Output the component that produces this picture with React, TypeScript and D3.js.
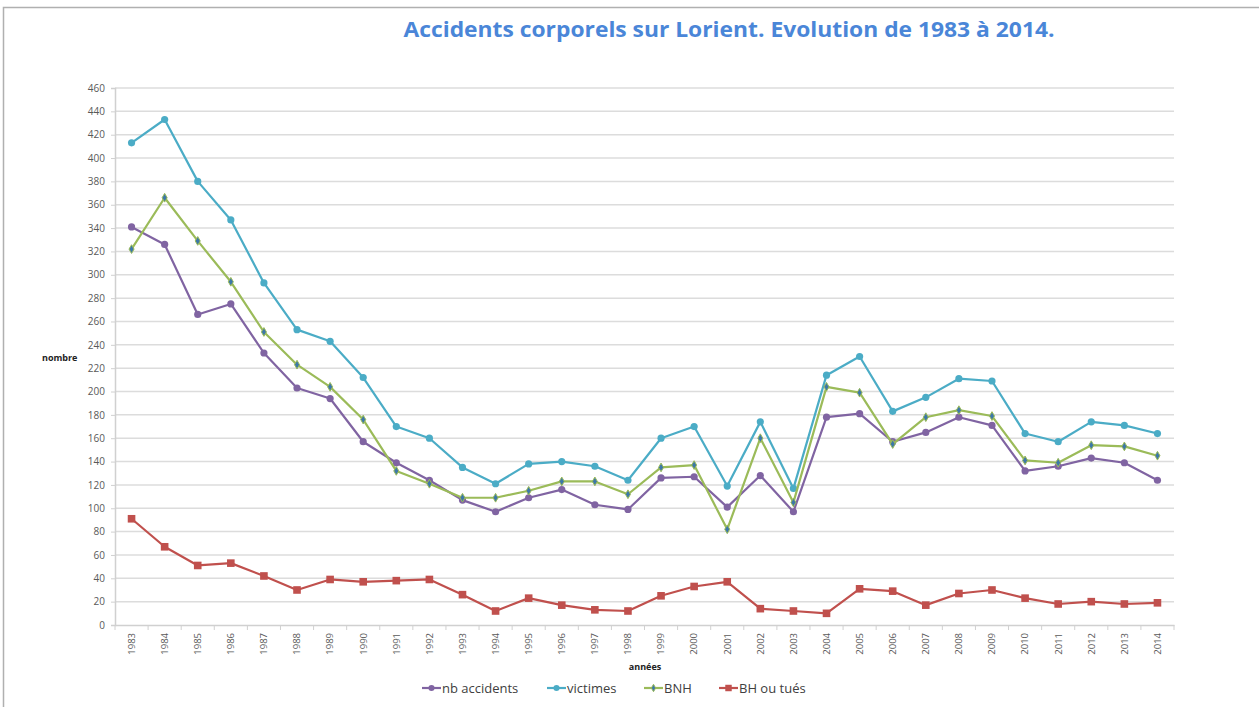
import React, { useEffect, useRef } from 'react';
import * as d3 from 'd3';

const years = [
  '1983', '1984', '1985', '1986', '1987', '1988', '1989', '1990', '1991', '1992', '1993',
  '1994', '1995', '1996', '1997', '1998', '1999', '2000', '2001', '2002', '2003', '2004',
  '2005', '2006', '2007', '2008', '2009', '2010', '2011', '2012', '2013', '2014',
];

const nbAccidents = [341, 326, 266, 275, 233, 203, 194, 157, 139, 124, 107, 97, 109, 116, 103, 99,
  126, 127, 101, 128, 97, 178, 181, 157, 165, 178, 171, 132, 136, 143, 139, 124];
const victimes = [413, 433, 380, 347, 293, 253, 243, 212, 170, 160, 135, 121, 138, 140, 136, 124,
  160, 170, 119, 174, 117, 214, 230, 183, 195, 211, 209, 164, 157, 174, 171, 164];
const bnh = [322, 366, 329, 294, 251, 223, 204, 176, 132, 121, 109, 109, 115, 123, 123, 112,
  135, 137, 82, 160, 105, 204, 199, 155, 178, 184, 179, 141, 139, 154, 153, 145];
const bhTues = [91, 67, 51, 53, 42, 30, 39, 37, 38, 39, 26, 12, 23, 17, 13, 12,
  25, 33, 37, 14, 12, 10, 31, 29, 17, 27, 30, 23, 18, 20, 18, 19];

const yTicks = d3.range(0, 461, 20);

const series = [
  { name: 'nb accidents', values: nbAccidents, color: '#8064a2', marker: 'circle' },
  { name: 'victimes', values: victimes, color: '#4bacc6', marker: 'circle' },
  { name: 'BNH', values: bnh, color: '#9bbb59', marker: 'diamond' },
  { name: 'BH ou tués', values: bhTues, color: '#c0504d', marker: 'square' },
];

const App = () => {
  const svgRef = useRef<SVGSVGElement>(null);

  useEffect(() => {
    const W = 1259;
    const H = 707;
    const m = { top: 88, right: 85, bottom: 82, left: 115 };
    const font = 'Open Sans, sans-serif';

    const svg = d3.select(svgRef.current)
      .attr('width', W)
      .attr('height', H)
      .style('background', '#fff');
    svg.selectAll('*').remove();

    // outer frame
    svg.append('path')
      .attr('d', `M3.5,${H} V7.5 H${W}`)
      .attr('fill', 'none')
      .attr('stroke', '#b0b0b0')
      .attr('stroke-width', 1.5);

    svg.append('text')
      .attr('x', 729)
      .attr('y', 37)
      .attr('text-anchor', 'middle')
      .attr('fill', '#4a86d8')
      .attr('font-family', font)
      .attr('font-weight', 'bold')
      .attr('font-size', 21)
      .attr('textLength', 651)
      .attr('lengthAdjust', 'spacingAndGlyphs')
      .text('Accidents corporels sur Lorient. Evolution de 1983 à 2014.');

    const x = d3.scaleBand().domain(years).range([m.left, W - m.right]);
    const y = d3.scaleLinear().domain([0, 460]).range([H - m.bottom, m.top]);
    const cx = (i: number) => (x(years[i]) as number) + x.bandwidth() / 2;

    // grid
    svg.append('g')
      .selectAll('line')
      .data(yTicks.filter(d => d > 0))
      .join('line')
      .attr('x1', m.left)
      .attr('x2', W - m.right)
      .attr('y1', d => y(d))
      .attr('y2', d => y(d))
      .attr('stroke', '#dcdcdc')
      .attr('stroke-width', 1.5);

    // y axis
    const yAxis = svg.append('g')
      .attr('transform', `translate(${m.left},0)`)
      .call(d3.axisLeft(y).tickValues(yTicks).tickSize(4).tickPadding(6));
    yAxis.select('.domain').attr('stroke', '#d0d0d0').attr('stroke-width', 1.5);
    yAxis.selectAll('.tick line').attr('stroke', '#d0d0d0');
    yAxis.selectAll('text')
      .attr('fill', '#595959')
      .attr('font-family', font)
      .attr('font-size', 10);

    // x axis
    const xAxis = svg.append('g')
      .attr('transform', `translate(0,${H - m.bottom})`)
      .call(d3.axisBottom(x).tickSize(0));
    xAxis.select('.domain').attr('stroke', '#d0d0d0').attr('stroke-width', 1.5);
    xAxis.selectAll('.tick text')
      .attr('transform', 'rotate(-90)')
      .attr('x', -8)
      .attr('y', 0)
      .attr('dy', '0.35em')
      .attr('text-anchor', 'end')
      .attr('fill', '#595959')
      .attr('font-family', font)
      .attr('font-size', 9.5);
    // category separators
    svg.append('g')
      .selectAll('line')
      .data(d3.range(years.length + 1))
      .join('line')
      .attr('x1', i => m.left + i * x.step())
      .attr('x2', i => m.left + i * x.step())
      .attr('y1', H - m.bottom)
      .attr('y2', H - m.bottom + 5)
      .attr('stroke', '#d0d0d0');

    // axis titles
    svg.append('text')
      .attr('x', 42)
      .attr('y', 361)
      .attr('font-family', font)
      .attr('font-weight', 'bold')
      .attr('font-size', 9)
      .attr('fill', '#222')
      .text('nombre');
    svg.append('text')
      .attr('x', 645)
      .attr('y', 670)
      .attr('text-anchor', 'middle')
      .attr('font-family', font)
      .attr('font-weight', 'bold')
      .attr('font-size', 9)
      .attr('fill', '#222')
      .text('années');

    const line = d3.line<number>()
      .x((d, i) => cx(i))
      .y(d => y(d));

    const drawMarker = (g: any, marker: string, color: string, px: number, py: number, k = 1) => {
      if (marker === 'circle') {
        g.append('circle').attr('cx', px).attr('cy', py).attr('r', 3.6 * k).attr('fill', color);
      } else if (marker === 'square') {
        g.append('rect').attr('x', px - 3.8 * k).attr('y', py - 3.8 * k)
          .attr('width', 7.6 * k).attr('height', 7.6 * k).attr('fill', color);
      } else {
        g.append('path')
          .attr('d', d3.symbol().type(d3.symbolDiamond).size(22 * k * k)())
          .attr('transform', `translate(${px},${py})`)
          .attr('fill', '#3d78a8')
          .attr('stroke', color)
          .attr('stroke-width', 1);
      }
    };

    series.forEach(s => {
      const g = svg.append('g');
      g.append('path')
        .datum(s.values)
        .attr('fill', 'none')
        .attr('stroke', s.color)
        .attr('stroke-width', 2.2)
        .attr('stroke-linejoin', 'round')
        .attr('d', line);
      s.values.forEach((v, i) => drawMarker(g, s.marker, s.color, cx(i), y(v)));
    });

    // legend
    const legendX = [422, 547, 644, 719];
    const ly = 688;
    series.forEach((s, i) => {
      const g = svg.append('g');
      g.append('line')
        .attr('x1', legendX[i]).attr('x2', legendX[i] + 19)
        .attr('y1', ly).attr('y2', ly)
        .attr('stroke', s.color).attr('stroke-width', 2.2);
      drawMarker(g, s.marker, s.color, legendX[i] + 9.5, ly, 0.85);
      g.append('text')
        .attr('x', legendX[i] + 20)
        .attr('y', ly)
        .attr('dy', '0.35em')
        .attr('font-family', font)
        .attr('font-size', 13)
        .attr('fill', '#404040')
        .text(s.name);
    });
  }, []);

  return <svg ref={svgRef} style={{ position: 'absolute', left: 0, top: 0 }}></svg>;
};

export default App;
